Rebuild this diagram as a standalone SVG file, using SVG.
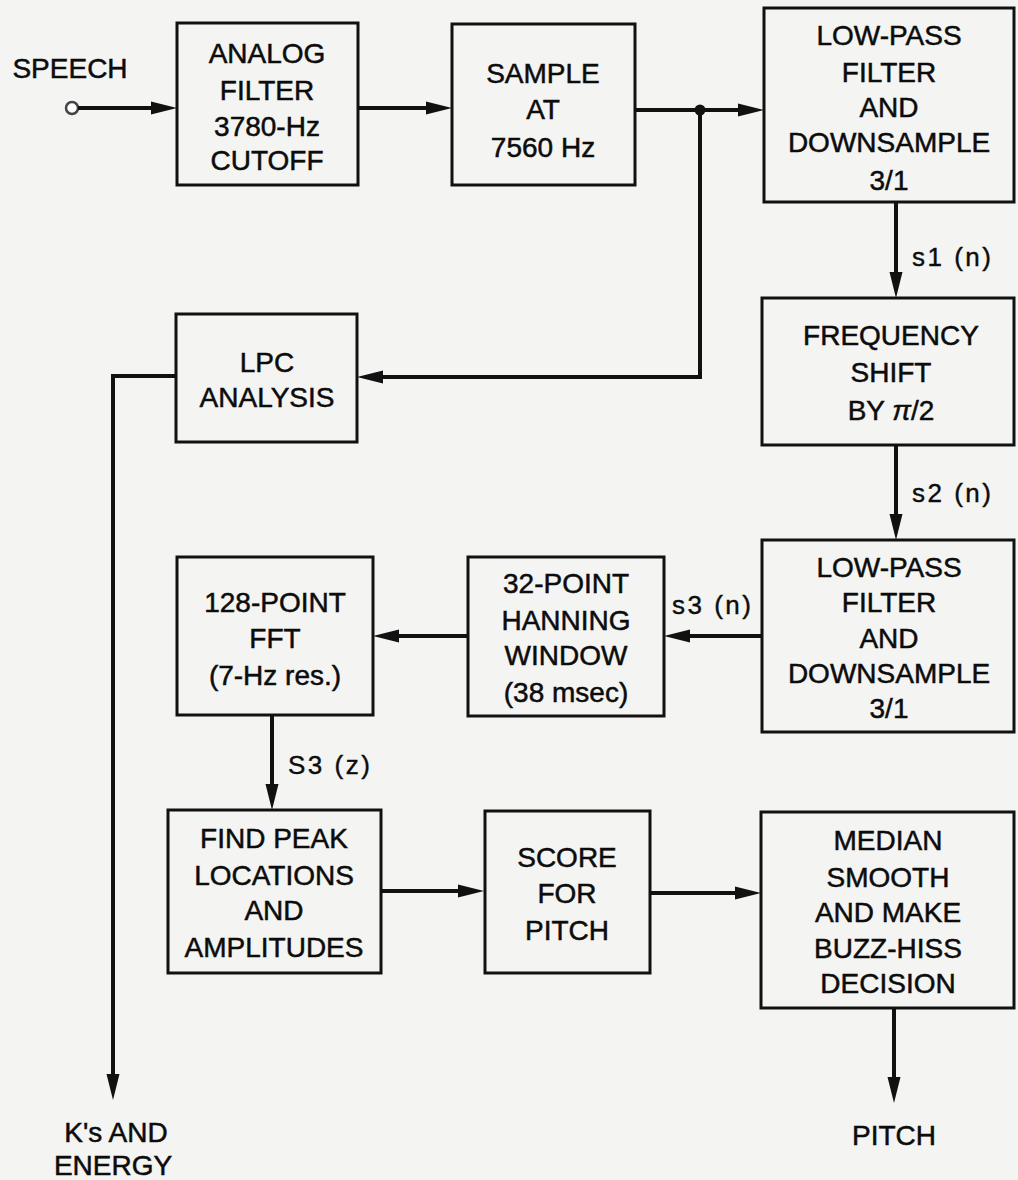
<svg xmlns="http://www.w3.org/2000/svg" width="1018" height="1180" viewBox="0 0 1018 1180">
<style>
.box{fill:none;stroke:#111;stroke-width:3}
.t{font-family:"Liberation Sans",Arial,sans-serif;font-size:28px;fill:#0c0c0c;stroke:#0c0c0c;stroke-width:0.5px;text-anchor:middle}
.lbl{font-family:"Liberation Sans",Arial,sans-serif;font-size:26px;fill:#0c0c0c;stroke:#0c0c0c;stroke-width:0.4px;letter-spacing:2.5px}
.c{fill:none;stroke:#111;stroke-width:4}
</style>
<defs>
<marker id="ah" markerUnits="userSpaceOnUse" markerWidth="27" markerHeight="14" refX="4" refY="7" orient="auto">
<path d="M0,0.5 L26,7 L0,13.5 z" fill="#111"/>
</marker>
</defs>
<rect width="1018" height="1180" fill="#f4f4f2"/>

<g id="connectors">
<circle cx="72" cy="108" r="6" fill="#fff" stroke="#444" stroke-width="2.5"/>
<path class="c" d="M78,108 H155" marker-end="url(#ah)"/>
<path class="c" d="M358,108 H430" marker-end="url(#ah)"/>
<path class="c" d="M635,110 H742" marker-end="url(#ah)"/>
<circle cx="700" cy="110" r="5.5" fill="#111"/>
<path class="c" d="M700,110 V377 H379" marker-end="url(#ah)"/>
<path class="c" d="M176,376 H113 V1078" marker-end="url(#ah)"/>
<path class="c" d="M896,202 V276" marker-end="url(#ah)"/>
<path class="c" d="M896,445 V518" marker-end="url(#ah)"/>
<path class="c" d="M762,636 H686" marker-end="url(#ah)"/>
<path class="c" d="M468,636 H395" marker-end="url(#ah)"/>
<path class="c" d="M272,715 V788" marker-end="url(#ah)"/>
<path class="c" d="M381,891 H462" marker-end="url(#ah)"/>
<path class="c" d="M650,893 H739" marker-end="url(#ah)"/>
<path class="c" d="M894,1008 V1081" marker-end="url(#ah)"/>
<text class="lbl" x="912" y="266">s1 (n)</text>
<text class="lbl" x="912" y="502">s2 (n)</text>
<text class="lbl" x="672" y="614">s3 (n)</text>
<text class="lbl" x="288" y="774">S3 (z)</text>
</g>

<g id="speech"><text class="t" x="70" y="78">SPEECH</text></g>

<g id="analog-filter">
<rect class="box" x="177" y="23" width="181" height="162"/>
<text class="t" x="267" y="63">ANALOG</text>
<text class="t" x="267" y="100">FILTER</text>
<text class="t" x="267" y="136">3780-Hz</text>
<text class="t" x="267" y="170">CUTOFF</text>
</g>

<g id="sample">
<rect class="box" x="452" y="24" width="183" height="161"/>
<text class="t" x="543" y="83">SAMPLE</text>
<text class="t" x="543" y="119">AT</text>
<text class="t" x="543" y="157">7560 Hz</text>
</g>

<g id="lpf1">
<rect class="box" x="764" y="8" width="250" height="194"/>
<text class="t" x="889" y="45">LOW-PASS</text>
<text class="t" x="889" y="82">FILTER</text>
<text class="t" x="889" y="117">AND</text>
<text class="t" x="889" y="152">DOWNSAMPLE</text>
<text class="t" x="889" y="190">3/1</text>
</g>

<g id="lpc">
<rect class="box" x="176" y="314" width="181" height="128"/>
<text class="t" x="267" y="372">LPC</text>
<text class="t" x="267" y="407">ANALYSIS</text>
</g>

<g id="freq-shift">
<rect class="box" x="762" y="298" width="252" height="147"/>
<text class="t" x="891" y="345">FREQUENCY</text>
<text class="t" x="891" y="382">SHIFT</text>
<text class="t" x="891" y="420">BY <tspan font-style="italic">π</tspan>/2</text>
</g>

<g id="lpf2">
<rect class="box" x="762" y="540" width="252" height="192"/>
<text class="t" x="889" y="577">LOW-PASS</text>
<text class="t" x="889" y="612">FILTER</text>
<text class="t" x="889" y="648">AND</text>
<text class="t" x="889" y="683">DOWNSAMPLE</text>
<text class="t" x="889" y="718">3/1</text>
</g>

<g id="hanning">
<rect class="box" x="468" y="557" width="196" height="159"/>
<text class="t" x="566" y="593">32-POINT</text>
<text class="t" x="566" y="630">HANNING</text>
<text class="t" x="566" y="665">WINDOW</text>
<text class="t" x="566" y="702">(38 msec)</text>
</g>

<g id="fft">
<rect class="box" x="177" y="557" width="196" height="158"/>
<text class="t" x="275" y="612">128-POINT</text>
<text class="t" x="275" y="648">FFT</text>
<text class="t" x="275" y="685">(7-Hz res.)</text>
</g>

<g id="find-peak">
<rect class="box" x="168" y="810" width="213" height="163"/>
<text class="t" x="274" y="848">FIND PEAK</text>
<text class="t" x="274" y="885">LOCATIONS</text>
<text class="t" x="274" y="920">AND</text>
<text class="t" x="274" y="957">AMPLITUDES</text>
</g>

<g id="score">
<rect class="box" x="485" y="811" width="165" height="162"/>
<text class="t" x="567" y="867">SCORE</text>
<text class="t" x="567" y="903">FOR</text>
<text class="t" x="567" y="940">PITCH</text>
</g>

<g id="median">
<rect class="box" x="761" y="812" width="253" height="196"/>
<text class="t" x="888" y="850">MEDIAN</text>
<text class="t" x="888" y="887">SMOOTH</text>
<text class="t" x="888" y="922">AND MAKE</text>
<text class="t" x="888" y="958">BUZZ-HISS</text>
<text class="t" x="888" y="993">DECISION</text>
</g>

<g id="ks-energy">
<text class="t" x="116" y="1142">K's AND</text>
<text class="t" x="113" y="1175">ENERGY</text>
</g>

<g id="pitch-out"><text class="t" x="894" y="1145">PITCH</text></g>
</svg>
